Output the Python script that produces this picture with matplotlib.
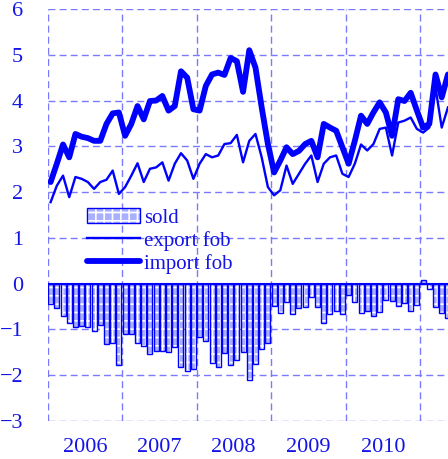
import numpy as np
import matplotlib
matplotlib.use("Agg")
import matplotlib.pyplot as plt
from matplotlib.patches import Patch
from matplotlib.lines import Line2D
from matplotlib.legend_handler import HandlerTuple

years = ["2006", "2007", "2008", "2009", "2010"]

sold = [-0.45, -0.54, -0.70, -0.85, -0.95, -0.93, -0.94, -1.04, -0.91, -1.32, -1.29, -1.78,
        -1.11, -1.11, -1.29, -1.36, -1.54, -1.46, -1.46, -1.50, -1.39, -1.81, -1.90, -1.87,
        -1.17, -1.25, -1.73, -1.83, -1.51, -1.78, -1.67, -1.49, -2.10, -1.76, -1.43, -1.30,
        -0.49, -0.63, -0.41, -0.67, -0.54, -0.51, -0.30, -0.51, -0.87, -0.66, -0.59, -0.67,
        -0.25, -0.41, -0.63, -0.59, -0.70, -0.62, -0.35, -0.37, -0.49, -0.43, -0.59, -0.47,
        0.07, -0.12, -0.52, -0.65, -0.74]

export_fob = [1.78, 2.14, 2.36, 1.89, 2.33, 2.29, 2.22, 2.07, 2.22, 2.27, 2.47, 1.96,
              2.11, 2.36, 2.63, 2.22, 2.51, 2.54, 2.65, 2.25, 2.62, 2.85, 2.69, 2.29,
              2.62, 2.83, 2.76, 2.80, 3.05, 3.07, 3.25, 2.65, 3.12, 3.27, 2.76, 2.11,
              1.93, 2.04, 2.58, 2.18, 2.40, 2.62, 2.80, 2.22, 2.62, 2.76, 2.80, 2.40,
              2.33, 2.62, 3.04, 2.91, 3.05, 3.38, 3.41, 2.80, 3.52, 3.56, 3.63, 3.38,
              3.30, 3.41, 4.28, 3.41, 3.85]

import_fob = [2.22, 2.62, 3.04, 2.76, 3.27, 3.21, 3.18, 3.12, 3.12, 3.49, 3.72, 3.74,
              3.23, 3.49, 3.88, 3.59, 3.99, 4.00, 4.10, 3.78, 3.88, 4.64, 4.50, 3.81,
              3.78, 4.32, 4.57, 4.61, 4.56, 4.93, 4.86, 4.19, 5.10, 4.72, 3.85, 3.05,
              2.43, 2.69, 2.98, 2.83, 2.90, 3.05, 3.12, 2.76, 3.49, 3.41, 3.34, 2.98,
              2.62, 3.12, 3.67, 3.49, 3.74, 3.96, 3.74, 3.23, 4.03, 3.99, 4.17, 3.78,
              3.41, 3.49, 4.57, 4.07, 4.57]

blue = "#0000ff"
txt = "#1414e6"
grid_c = "#7a7aff"
fill_c = "#a9b0ff"

x = 2006 + (np.arange(len(sold)) + 0.5) / 12.0

plt.rcParams['hatch.linewidth'] = 1.2
fig = plt.figure(figsize=(4.48, 4.59), dpi=100)
ax = fig.add_axes([47.5 / 448, 1 - 421 / 459, 1 - 47.5 / 448, (421 - 9) / 459])

ax.bar(x, sold, width=0.8 / 12, facecolor=fill_c, edgecolor="white",
       hatch="++", linewidth=0, zorder=3)
ax.bar(x, sold, width=0.8 / 12, facecolor="none", edgecolor=blue,
       linewidth=1.0, zorder=3)
ax.axhline(0, color=blue, lw=1.5, zorder=4)
ax.plot(x, export_fob, color=blue, lw=1.7, solid_joinstyle="round", zorder=5)
ax.plot(x, import_fob, color=blue, lw=4.2, solid_joinstyle="round",
        solid_capstyle="round", zorder=5)

ax.set_xlim(2006, 2006 + (448 - 47.5) / 74.5)
ax.set_ylim(-3, 6)

for s in ax.spines.values():
    s.set_visible(False)

ax.set_xticks(range(2006, 2012))
ax.set_xticklabels([])
ax.set_xticks([int(y) + 0.5 for y in years], minor=True)
ax.set_xticklabels(years, minor=True)
ax.set_yticks(range(-3, 7))
ax.tick_params(axis="both", which="both", length=0, colors=txt, labelsize=16)
ax.tick_params(axis="y", pad=17.5)
ax.tick_params(axis="x", which="minor", pad=12)
for lab in ax.get_xticklabels(minor=True) + ax.get_yticklabels():
    lab.set_fontfamily("Liberation Serif")
    lab.set_color(txt)

ax.grid(True, which="major", color=grid_c, linestyle=(0, (5, 3)), lw=1.0, zorder=1)
ax.set_axisbelow(True)

sold_h = (Patch(facecolor=fill_c, edgecolor="white", hatch="++", lw=0),
          Patch(facecolor="none", edgecolor=blue, lw=1.0))
handles = [sold_h,
           Line2D([], [], color=blue, lw=1.7),
           Line2D([], [], color=blue, lw=4.2, solid_capstyle="round")]
leg = ax.legend(handles, ["sold", "export fob", "import fob"],
                handler_map={tuple: HandlerTuple(ndivide=1, pad=0)},
                loc="center left", bbox_to_anchor=(0.0986, 0.437),
                frameon=False, handlelength=2.55, handletextpad=0.2,
                labelspacing=0.15, borderaxespad=0, borderpad=0,
                prop={"family": "Liberation Serif", "size": 15})
for t in leg.get_texts():
    t.set_color(txt)

fig.savefig("out.png", dpi=100)
